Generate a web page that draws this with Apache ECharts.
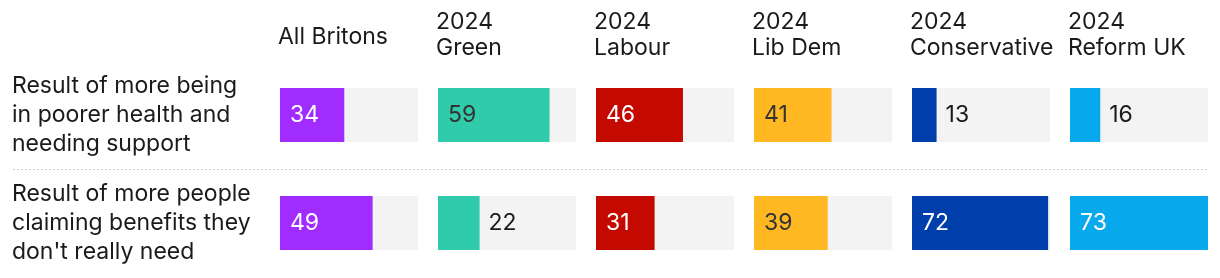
<!DOCTYPE html>
<html><head><meta charset="utf-8">
<script src="https://cdn.jsdelivr.net/npm/echarts@6/dist/echarts.min.js"></script>
<style>html,body{margin:0;padding:0;background:#fff}#c{width:1220px;height:278px}</style>
</head><body><div id="c"></div>
<script>
const groups = ['All Britons', '2024\nGreen', '2024\nLabour', '2024\nLib Dem', '2024\nConservative', '2024\nReform UK'];
const rowLabels = ['Result of more being\nin poorer health and\nneeding support', 'Result of more people\nclaiming benefits they\ndon\'t really need'];
const healthValues = [34, 59, 46, 41, 13, 16];
const benefitsValues = [49, 22, 31, 39, 72, 73];

const barColors = ['#a02cff', '#30cbaa', '#c40a00', '#ffb822', '#003eab', '#08a8ec'];
const insideLabelColors = ['#ffffff', '#333333', '#ffffff', '#333333', '#ffffff', '#ffffff'];
const FONT = 'Inter';
const maxVal = Math.max(...healthValues, ...benefitsValues);

const chart = echarts.init(document.getElementById('c'), null, {renderer: 'canvas'});
const grids = [], xAxes = [], yAxes = [], series = [], titles = [];
groups.forEach((g, i) => {
  const left = 280 + i * 158;
  grids.push({left: left, top: 61, width: 138, height: 216});
  xAxes.push({type: 'value', gridIndex: i, min: 0, max: maxVal, show: false});
  yAxes.push({type: 'category', gridIndex: i, inverse: true, data: rowLabels,
    axisLine: {show: false}, axisTick: {show: false},
    axisLabel: i === 0 ? {show: true, align: 'left', margin: left - 12, fontFamily: FONT, fontSize: 23, lineHeight: 29, color: '#1a1a1a'} : {show: false}});
  const vals = [healthValues[i], benefitsValues[i]];
  series.push({type: 'bar', xAxisIndex: i, yAxisIndex: i, barWidth: 54,
    showBackground: true, backgroundStyle: {color: '#f3f3f3'},
    itemStyle: {color: barColors[i]},
    label: {show: true, fontFamily: FONT, fontSize: 23},
    data: vals.map(v => ({value: v, label: v < 25
      ? {position: 'right', distance: 9, color: '#1a1a1a'}
      : {position: 'insideLeft', distance: 10, color: insideLabelColors[i]}}))});
  const twoLine = g.indexOf('\n') >= 0;
  titles.push({text: g, left: left - 2, top: twoLine ? 9 : 24, padding: 0,
    textStyle: {fontFamily: FONT, fontSize: 23, fontWeight: 'normal', color: '#1a1a1a', lineHeight: 26}});
});

chart.setOption({
  animation: false,
  title: titles,
  grid: grids, xAxis: xAxes, yAxis: yAxes, series: series,
  graphic: [{type: 'line', shape: {x1: 13, y1: 169.5, x2: 1208, y2: 169.5},
    style: {stroke: '#cccccc', lineWidth: 1, lineDash: [2, 2]}}]
});
</script></body></html>
